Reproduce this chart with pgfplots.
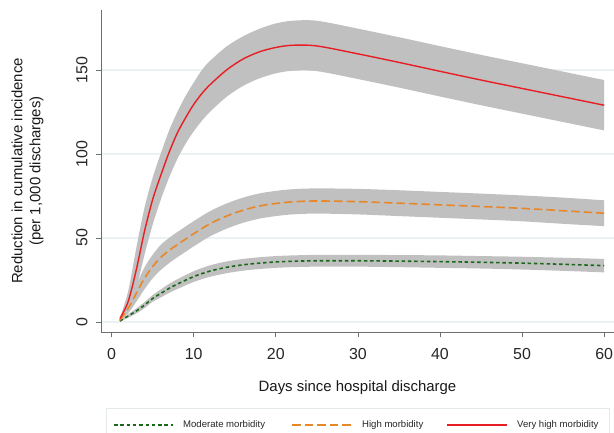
\documentclass[border=0pt]{standalone}
\usepackage{fontspec}
\setmainfont{Liberation Sans}
\usepackage{pgfplots}
\usepackage{pgfplotstable}
\pgfplotsset{compat=1.18}
\usepgfplotslibrary{fillbetween}

\definecolor{bandgray}{RGB}{192,192,192}
\definecolor{gridc}{RGB}{234,242,243}
\definecolor{axc}{RGB}{110,110,110}
\definecolor{vhred}{RGB}{232,30,36}
\definecolor{hiorange}{RGB}{232,135,40}
\definecolor{modgreen}{RGB}{25,105,25}
\definecolor{legbox}{RGB}{228,234,234}

\tikzset{
    modline/.style={draw=modgreen, line width=1.6bp, dash pattern=on 3.5bp off 2.8bp},
    hiline/.style={draw=hiorange, line width=1.6bp, dash pattern=on 8.5bp off 4bp},
    vhline/.style={draw=vhred, line width=1.4bp},
}

% x = day, y = estimate, lo/hi = confidence band
\pgfplotstableread{
x y lo hi
1 2 1.5 2.5
2 12 7 18
3 31 20 44
4 54 40 68
5 73 58 86
6 87.5 73 100.5
7 101 86 114
8 112.5 97 125
9 121.5 106 134.5
10 129.5 113.5 142.5
11 136 119.8 150
12 141.3 125.2 155.5
14 150 134 164
16 156.5 140.5 170
18 160.8 145 174.5
20 163.4 148 177.7
22 164.7 149.5 179.3
25 164.3 149.3 179.3
30 159.6 144.6 174.6
35 154.5 139.5 169.5
40 149.2 134.2 164.2
45 144 129 159
50 139 124 154
55 134 119 149
60 129 114 144
}\veryhigh

\pgfplotstableread{
x y lo hi
1 1 0.7 1.3
2 8 5 11
3 17 12 22
4 26 19.5 32.5
5 33 26 40
6 38.5 31 46
7 42.5 35 50
8 46 38.5 53.5
10 52.5 45 60
12 58.5 51 66
14 63 55.5 70.5
16 66.5 59 74
18 69 61.5 76.5
20 70.5 63 78
22 71.5 64 79
25 72 64.5 79.5
30 71.6 64 79.2
35 70.7 63 78.4
40 69.7 62 77.4
45 68.7 61 76.4
50 67.6 59.9 75.3
55 66.2 58.4 74
60 64.7 57 72.4
}\high

\pgfplotstableread{
x y lo hi
1 0.5 0.3 0.7
2 3.5 2.5 4.5
3 6.5 5 8
4 10 8.2 11.8
5 14 12 16
6 17 14.6 19.4
7 20 17.3 22.7
8 22.5 19.6 25.4
10 27 23.8 30.2
12 30.3 26.9 33.7
14 32.5 29 36
16 34 30.5 37.5
18 35 31.5 38.5
20 35.7 32.2 39.2
22 36.1 32.6 39.6
25 36.4 32.9 39.9
30 36.4 32.9 39.9
35 36.2 32.6 39.8
40 35.9 32.2 39.6
45 35.5 31.8 39.2
50 35 31.2 38.8
55 34.3 30.4 38.2
60 33.5 29.5 37.5
}\moderate

\begin{document}
\begin{tikzpicture}
\begin{axis}[
    scale only axis,
    width=513bp, height=322bp,
    xmin=-1.3, xmax=61.2,
    ymin=-6, ymax=185.7,
    axis x line*=bottom, axis y line*=left,
    axis line style={color=axc, line width=0.9bp},
    xtick={0,10,...,60}, ytick={0,50,100,150},
    tick align=outside, major tick length=5bp,
    tick style={color=axc, line width=0.8bp},
    ymajorgrids, grid style={color=gridc, line width=1.2bp},
    /pgf/number format/assume math mode=true,
    ticklabel style={font=\fontsize{16}{18}\selectfont, color=black!85},
    xticklabel style={yshift=-8bp},
    yticklabel style={xshift=-5bp, rotate=90, anchor=south},
    xlabel={Days since hospital discharge},
    ylabel={Reduction in cumulative incidence\\(per 1,000 discharges)},
    label style={font=\fontsize{15}{18}\selectfont, color=black!90},
    xlabel style={yshift=-14bp},
    ylabel style={align=center, yshift=26bp},
]
% confidence bands
\addplot[draw=none, smooth, name path=vhU, forget plot] table[x=x, y=hi]{\veryhigh};
\addplot[draw=none, smooth, name path=vhL, forget plot] table[x=x, y=lo]{\veryhigh};
\addplot[bandgray, forget plot] fill between[of=vhU and vhL];
\addplot[draw=none, smooth, name path=hU, forget plot] table[x=x, y=hi]{\high};
\addplot[draw=none, smooth, name path=hL, forget plot] table[x=x, y=lo]{\high};
\addplot[bandgray, forget plot] fill between[of=hU and hL];
\addplot[draw=none, smooth, name path=mU, forget plot] table[x=x, y=hi]{\moderate};
\addplot[draw=none, smooth, name path=mL, forget plot] table[x=x, y=lo]{\moderate};
\addplot[bandgray, forget plot] fill between[of=mU and mL];

% estimates
\addplot[modline, smooth] table[x=x, y=y]{\moderate};
\addplot[hiline, smooth] table[x=x, y=y]{\high};
\addplot[vhline, smooth] table[x=x, y=y]{\veryhigh};
\end{axis}

% legend box below the axis (drawn outside the axis layers)
\begin{scope}[shift={(current axis.south west)}, x=1bp, y=1bp,
              every node/.style={anchor=west, inner sep=0pt,
                                 font=\fontsize{9.6}{11}\selectfont, text=black!85}]
\draw[legbox, line width=0.8bp, fill=white] (5,-76) rectangle (508,-118);
\draw[modline] (13,-93) -- (72,-93);
\node at (82,-93) {Moderate morbidity};
\draw[hiline] (191,-93) -- (251,-93);
\node at (261,-93) {High morbidity};
\draw[vhline] (346,-93) -- (406,-93);
\node at (416,-93) {Very high morbidity};
\end{scope}

\pgfresetboundingbox
\path ([xshift=-101bp, yshift=-101bp]current axis.south west)
      rectangle ([yshift=10bp]current axis.north east);
\end{tikzpicture}
\end{document}
